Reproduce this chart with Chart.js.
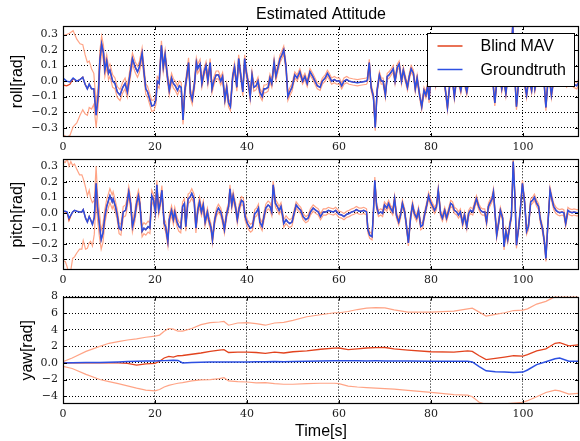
<!DOCTYPE html>
<html>
<head>
<meta charset="utf-8">
<script src="https://cdn.jsdelivr.net/npm/chart.js@4.4.1/dist/chart.umd.min.js"></script>
<style>
body{margin:0;background:#fff;}
#wrap{position:relative;width:580px;height:441px;background:#fff;}
#wrap canvas{position:absolute;left:0;}
</style>
</head>
<body>
<div id="wrap">
  <canvas id="roll_chart" width="580" height="160" style="top:0px"></canvas>
  <canvas id="pitch_chart" width="580" height="160" style="top:140px"></canvas>
  <canvas id="yaw_chart" width="580" height="156" style="top:285px"></canvas>
</div>
<script>
// tick labels
var timeTicks = [0, 20, 40, 60, 80, 100];
var angleTicks = [-0.3, -0.2, -0.1, 0, 0.1, 0.2, 0.3];
var yawTicks = [-4, -2, 0, 2, 4, 6, 8];

//ROLL DATA (time [s], groundtruth [rad])
var rollTime = [
    0, 0.8, 1.5, 2.2, 3.0, 3.7, 4.3, 4.8, 5.3, 5.7,
    6.2, 6.7, 7.2, 7.7, 8.0, 8.4, 8.8, 9.1, 9.5, 9.9,
    10.2, 10.8, 11.3, 11.8, 12.4, 13.0, 13.5, 14.0, 14.6, 15.1,
    15.7, 16.2, 16.6, 17.2, 17.6, 18.0, 18.4, 18.9, 19.3, 19.8,
    20.2, 20.5, 20.9, 21.4, 21.8, 22.2, 22.7, 23.1, 23.6, 24.0,
    24.4, 24.9, 25.3, 25.7, 26.1, 26.5, 26.9, 27.3, 27.7, 28.1,
    28.6, 29.0, 29.3, 29.8, 30.2, 30.7, 31.1, 31.5, 32.0, 32.4,
    32.8, 33.3, 33.8, 34.3, 34.7, 35.2, 35.6, 36.0, 36.4, 36.9,
    37.3, 37.8, 38.2, 38.6, 39.1, 39.5, 39.9, 40.3, 40.7, 41.1,
    41.5, 42.0, 42.4, 42.8, 43.3, 43.7, 44.1, 44.6, 45.0, 45.4,
    45.9, 46.3, 46.7, 47.2, 47.6, 48.0, 48.5, 48.9, 49.3, 49.8,
    50.4, 50.9, 51.5, 52.1, 52.6, 53.1, 53.7, 54.3, 54.8, 55.3,
    55.9, 56.4, 57.0, 57.5, 57.9, 58.4, 59.0, 59.5, 60.1, 60.6,
    61.1, 61.7, 62.2, 63.0, 64.0, 65.0, 66.0, 66.2, 66.6, 67.0,
    67.5, 67.9, 68.3, 68.8, 69.2, 69.6, 70.1, 70.5, 70.9, 71.4,
    71.8, 72.2, 72.7, 73.1, 73.6, 74.0, 74.4, 74.9, 75.3, 75.7,
    76.2, 76.6, 77.0, 77.6, 78.0, 78.5, 78.9, 79.3, 79.6, 80.0,
    80.5, 81.0, 81.5, 82.0, 82.5, 83.0, 83.6, 84.1, 84.6, 85.1,
    85.6, 86.0, 86.5, 87.0, 87.8, 88.3, 88.8, 89.3, 89.8, 90.3,
    90.8, 91.3, 91.8, 92.3, 92.8, 93.3, 93.9, 94.4, 94.9, 95.4,
    95.8, 96.3, 96.8, 97.3, 97.8, 98.2, 98.6, 99.1, 99.6, 100.1,
    100.8, 101.3, 101.9, 102.3, 102.6, 103.2, 103.8, 104.4, 105.0, 105.6,
    106.2, 106.8, 107.4, 108.0, 108.8, 109.5, 110.2, 111.0, 111.7, 112.3
];
var rollGt = [
    0.02, 0.0, -0.005, 0.02, 0.0, 0.01, 0.025, -0.02, -0.05, -0.02,
    -0.05, -0.05, -0.22, -0.08, 0.13, 0.24, 0.18, 0.07, 0.13, 0.05,
    0.07, 0.0, -0.015, -0.07, -0.09, -0.04, -0.015, -0.07, 0.05, 0.145,
    0.09, 0.06, 0.09, 0.18, 0.06, -0.05, -0.07, -0.12, -0.16, -0.155,
    -0.12, 0.0, -0.015, 0.23, 0.09, 0.17, 0.03, -0.06, 0.02, -0.015,
    -0.03, -0.06, -0.03, -0.04, -0.25, -0.06, 0.03, 0.12, -0.08, -0.12,
    -0.015, 0.12, 0.08, 0.11, -0.015, 0.06, 0.10, 0.0, 0.12, -0.05,
    0.0, 0.04, 0.04, 0.0, 0.03, -0.12, -0.04, -0.14, -0.165, 0.03,
    0.09, -0.04, 0.145, 0.05, -0.07, 0.145, 0.05, -0.015, -0.10, 0.04,
    -0.04, -0.03, 0.0, -0.07, -0.10, -0.05, -0.05, -0.04, 0.02, -0.015,
    0.12, 0.03, 0.08, 0.145, 0.17, 0.2, 0.09, -0.10, -0.07, -0.04,
    0.04, 0.02, 0.06, 0.0, 0.03, -0.015, 0.06, 0.03, 0.0, -0.03,
    -0.04, 0.0, 0.02, 0.05, 0.03, 0.0, 0.01, 0.0, 0.0, -0.03,
    0.0, 0.01, 0.0, -0.005, -0.01, -0.005, 0.0, 0.01, 0.12, -0.04,
    -0.1, -0.30, -0.06, 0.04, 0.0, 0.0, -0.09, 0.03, 0.04, 0.06,
    0.08, 0.0, 0.09, 0.11, 0.0, 0.07, 0.02, -0.04, 0.03, 0.08,
    0.05, -0.05, 0.02, -0.1, -0.165, -0.06, -0.09, -0.03, -0.12, 0.02,
    0.06, -0.02, 0.08, 0.0, 0.05, -0.02, -0.17, -0.02, 0.03, -0.1,
    0.02, 0.0, -0.06, 0.03, -0.07, 0.02, 0.05, 0.0, 0.06, 0.02,
    0.08, 0.03, 0.1, 0.04, 0.0, 0.05, -0.14, 0.02, 0.06, -0.05,
    0.02, -0.08, 0.05, 0.12, 0.36, 0.05, -0.165, 0.0, 0.1, 0.03,
    -0.09, 0.02, -0.06, 0.04, -0.05, 0.05, 0.02, 0.08, -0.17, 0.06,
    -0.09, 0.03, 0.06, 0.0, 0.03, -0.02, 0.01, -0.02, -0.03, 0.0
];
// estimate only differs from groundtruth in the first samples
var rollEstStart = [-0.025, -0.03, -0.02, 0.015];
// 1-sigma band, value holds from each listed time on
var rollSigT = [0, 0.8, 2.2, 3.0, 3.7, 4.3, 4.8, 5.3, 5.7, 6.2, 6.7, 7.2, 7.7, 8.4, 9.1, 11, 20, 30, 50];
var rollSigV = [0.32, 0.33, 0.31, 0.27, 0.23, 0.21, 0.19, 0.17, 0.15, 0.13, 0.1, 0.08, 0.06, 0.05, 0.04, 0.035, 0.03, 0.025, 0.02];

//PITCH DATA
var pitchTime = [
    0, 0.5, 0.9, 1.3, 1.7, 2.1, 2.5, 3.0, 3.6, 4.1,
    4.4, 4.9, 5.3, 5.7, 6.0, 6.4, 6.8, 7.2, 7.5, 7.9,
    8.3, 8.7, 9.1, 9.5, 9.9, 10.2, 10.7, 10.9, 11.4, 11.8,
    12.2, 12.6, 13.1, 13.6, 13.8, 14.3, 14.7, 15.1, 15.6, 16.0,
    16.4, 16.7, 17.2, 17.6, 18.0, 18.5, 18.9, 19.3, 19.7, 20.1,
    20.4, 20.8, 21.2, 21.5, 22.0, 22.3, 22.8, 23.1, 23.6, 24.0,
    24.3, 24.8, 25.2, 25.6, 26.0, 26.4, 26.7, 27.2, 27.6, 28.0,
    28.5, 28.9, 29.3, 29.7, 30.1, 30.5, 30.9, 31.4, 31.7, 32.2,
    32.5, 33.0, 33.4, 33.8, 34.3, 34.7, 35.1, 35.6, 36.0, 36.3,
    36.7, 37.0, 37.5, 37.9, 38.3, 38.8, 39.2, 39.6, 40.1, 40.5,
    40.8, 41.2, 41.7, 42.1, 42.5, 42.8, 43.3, 43.7, 44.1, 44.6,
    45.0, 45.4, 45.7, 46.2, 46.6, 47.0, 47.4, 47.8, 48.0, 48.5,
    48.9, 49.3, 49.8, 50.2, 50.7, 51.2, 51.7, 52.2, 52.8, 53.3,
    53.8, 54.4, 55.0, 55.5, 56.0, 56.6, 57.2, 57.7, 58.2, 58.8,
    59.3, 60.0, 60.6, 61.1, 61.7, 62.2, 62.8, 63.3, 63.8, 64.4,
    64.9, 65.4, 66.0, 66.3, 66.7, 67.2, 67.5, 67.8, 68.2, 68.6,
    69.1, 69.5, 69.9, 70.4, 70.8, 71.2, 71.7, 72.1, 72.5, 73.0,
    73.4, 73.8, 74.3, 74.7, 75.1, 75.6, 76.0, 76.4, 76.9, 77.3,
    77.8, 78.2, 78.6, 79.1, 79.5, 79.9, 80.4, 80.8, 81.2, 81.6,
    82.1, 82.5, 83.0, 83.4, 83.8, 84.3, 84.7, 85.1, 85.6, 86.0,
    86.4, 86.9, 87.3, 87.8, 88.2, 88.6, 89.1, 89.5, 89.9, 90.4,
    90.8, 91.2, 91.7, 92.1, 92.5, 92.8, 93.3, 93.6, 94.0, 94.3,
    94.7, 95.1, 95.6, 95.9, 96.3, 96.7, 97.2, 97.5, 97.9, 98.3,
    98.6, 99.1, 99.5, 99.9, 100.4, 100.8, 101.2, 101.7, 102.1, 102.5,
    103.0, 103.4, 103.8, 104.3, 104.7, 105.0, 105.4, 105.9, 106.3, 106.7,
    107.2, 107.6, 108.0, 108.5, 108.9, 109.3, 109.8, 110.2, 110.7, 111.1,
    111.7, 112.2
];
var pitchGt = [
    0.01, 0.01, 0.005, -0.035, -0.015, 0.005, 0.015, 0.01, 0.005, 0.005,
    0.02, -0.035, -0.06, -0.025, -0.045, -0.075, -0.03, 0.19, 0.04, -0.07,
    -0.175, -0.13, -0.025, 0.04, 0.08, 0.11, 0.07, 0.09, 0.04, -0.015,
    -0.1, -0.11, 0.005, 0.015, 0.04, 0.135, 0.06, -0.09, -0.025, 0.06,
    0.11, 0.06, -0.12, -0.1, -0.11, -0.09, -0.1, 0.11, 0.08, 0.005,
    0.18, 0.015, 0.07, 0.145, -0.07, -0.09, -0.185, -0.045, 0.015, -0.045,
    0.005, -0.06, -0.09, -0.1, 0.04, 0.06, -0.09, 0.09, 0.1, 0.125,
    0.09, -0.1, 0.015, 0.07, 0.005, 0.05, -0.06, 0.005, -0.045, -0.1,
    -0.175, -0.045, 0.005, 0.03, 0.005, -0.045, -0.11, -0.005, 0.04, 0.155,
    0.05, 0.11, 0.04, -0.045, 0.03, 0.08, 0.07, -0.025, -0.07, -0.09,
    -0.1, -0.09, -0.005, 0.005, 0.03, -0.06, -0.09, -0.025, 0.03, 0.05,
    0.04, 0.005, 0.18, 0.06, 0.04, 0.015, 0.04, -0.025, -0.07, -0.045,
    -0.06, -0.07, -0.06, -0.01, 0.05, 0.03, 0.015, -0.025, -0.045, -0.035,
    0.005, 0.03, 0.015, 0.005, -0.025, 0.005, 0.005, 0.015, 0.01, 0.005,
    0.015, -0.01, -0.015, -0.025, -0.01, -0.005, 0.005, 0.01, 0.02, 0.01,
    0.01, 0.015, 0.005, -0.11, -0.145, -0.155, 0.005, 0.21, 0.04, -0.005,
    0.005, -0.005, 0.05, 0.03, 0.06, 0.03, 0.005, 0.09, -0.015, -0.06,
    -0.015, 0.06, 0.005, -0.09, -0.195, -0.025, 0.05, -0.005, -0.035, 0.015,
    -0.09, -0.08, -0.015, 0.05, 0.11, 0.07, 0.04, 0.015, 0.04, 0.145,
    -0.005, -0.035, 0.015, -0.035, 0.005, 0.06, 0.05, 0.015, 0.005, -0.015,
    0.005, -0.07, -0.015, -0.09, -0.005, 0.015, 0.005, 0.05, 0.09, 0.04,
    0.015, 0.005, 0.005, -0.06, 0.04, 0.06, 0.09, 0.135, -0.025, -0.145,
    -0.07, 0.015, -0.035, -0.22, -0.12, -0.175, -0.07, -0.025, 0.33, 0.08,
    -0.21, -0.09, 0.04, 0.19, 0.06, -0.12, -0.09, 0.07, 0.08, 0.1,
    0.06, 0.04, -0.045, -0.11, -0.195, -0.295, -0.09, 0.145, 0.09, 0.04,
    0.015, 0.005, 0.0, 0.005, 0.0, -0.07, 0.015, 0.005, 0.0, 0.005,
    0.0, 0.0
];
var pitchEstStart = [0.01, 0.005, 0.0, -0.05, -0.02];
var pitchSigT = [0, 0.9, 2.1, 3.0, 3.6, 4.4, 5.3, 6.0, 6.8, 7.5, 8.3, 9.1, 11, 20, 30, 50];
var pitchSigV = [0.32, 0.35, 0.30, 0.27, 0.24, 0.2, 0.17, 0.14, 0.11, 0.08, 0.06, 0.045, 0.035, 0.03, 0.025, 0.02];

//YAW DATA
var yawTime = [0, 2, 5, 8, 10, 12, 14, 16, 18, 20, 21, 22, 23, 24, 25, 26, 28, 30, 32, 34,
    35, 36, 38, 40, 42, 44, 46, 48, 50, 53, 56, 59, 60, 62, 64, 66, 68, 70, 72, 75,
    80, 85, 88, 89, 90.5, 92, 94, 96, 98, 100, 101, 103, 105, 107, 108, 110, 112];
var yawEst = [0, 0, 0, 0.02, 0.05, 0.02, -0.05, -0.25, -0.1, -0.05, 0.2, 0.6, 0.8, 0.7, 0.87, 0.9, 1.05, 1.2, 1.4, 1.55,
    1.6, 1.26, 1.3, 1.3, 1.26, 1.15, 1.3, 1.2, 1.35, 1.45, 1.65, 1.78, 1.8, 1.6, 1.7, 1.8, 1.85, 1.86, 1.7, 1.55,
    1.35, 1.3, 1.46, 1.4, 0.87, 0.4, 0.55, 0.7, 0.87, 0.83, 1.0, 1.46, 1.7, 2.37, 2.45, 2.05, 2.17];
var yawGt = [0, 0.02, 0.04, 0.06, 0.08, 0.12, 0.16, 0.2, 0.22, 0.24, 0.26, 0.28, 0.3, 0.32, 0.3, 0, 0.05, 0.08, 0.1, 0.1,
    0.1, 0.1, 0.11, 0.12, 0.13, 0.14, 0.16, 0.14, 0.16, 0.2, 0.24, 0.27, 0.28, 0.26, 0.25, 0.24, 0.25, 0.24, 0.22, 0.22,
    0.2, 0.2, 0.2, 0.12, -0.45, -0.95, -1.07, -1.1, -1.15, -1.1, -0.85, -0.2, 0.15, 0.5, 0.6, 0.2, 0.2];
var yawUp = [0.15, 0.6, 1.4, 2.0, 2.37, 2.57, 2.77, 2.9, 3.1, 3.24, 3.36, 3.83, 4.15, 4.07, 3.83, 3.83, 4.15, 4.62, 4.86, 4.94,
    5.0, 4.55, 4.82, 4.86, 4.74, 4.55, 4.82, 4.9, 5.14, 5.57, 5.81, 6.05, 6.05, 6.2, 6.44, 6.6, 6.68, 6.64, 6.4, 6.13,
    6.13, 6.25, 6.52, 6.6, 6.13, 5.65, 5.85, 6.05, 6.32, 6.36, 6.52, 7.1, 7.43, 8.0, 8.1, 7.95, 8.05];
var yawLo = [-0.4, -0.67, -1.38, -2.0, -2.25, -2.5, -2.77, -3.04, -3.28, -3.36, -3.2, -2.9, -2.7, -2.57, -2.45, -2.37, -2.17, -2.05, -2.0, -1.9,
    -1.78, -2.17, -2.25, -2.3, -2.4, -2.37, -2.5, -2.57, -2.57, -2.5, -2.45, -2.45, -2.5, -2.8, -2.9, -2.97, -3.04, -3.1, -3.16, -3.3,
    -3.56, -3.83, -3.87, -4.07, -4.74, -5.0, -5.0, -4.94, -4.85, -4.74, -4.55, -4.07, -3.56, -3.28, -3.36, -3.75, -3.68];

var estColor = '#e2431e';
var gtColor = '#2d50e2';
var bandColor = '#ffa486';

function checkLen(name, a, b) {
    if (a.length !== b.length) throw new Error(name + ': ' + a.length + ' vs ' + b.length);
}
checkLen('roll', rollTime, rollGt);
checkLen('pitch', pitchTime, pitchGt);
checkLen('yaw', yawTime, yawEst);
checkLen('yawGt', yawTime, yawGt);
checkLen('yawUp', yawTime, yawUp);
checkLen('yawLo', yawTime, yawLo);

function xy(times, vals) {
    return times.map(function (t, i) { return {x: t, y: vals[i]}; });
}
function sigmaAt(stepT, stepV, t) {
    var v = stepV[0];
    for (var i = 0; i < stepT.length; i++) {
        if (stepT[i] <= t) v = stepV[i];
    }
    return v;
}
function band(times, est, stepT, stepV, sign) {
    return times.map(function (t, i) {
        return {x: t, y: est[i] + sign * sigmaAt(stepT, stepV, t)};
    });
}

var rollEst = rollEstStart.concat(rollGt.slice(rollEstStart.length));
var pitchEst = pitchEstStart.concat(pitchGt.slice(pitchEstStart.length));

function lineSet(label, data, color, width, order) {
    return {
        label: label,
        data: data,
        borderColor: color,
        borderWidth: width,
        pointRadius: 0,
        tension: 0,
        fill: false,
        order: order
    };
}

function panelSets(times, est, gt, up, lo) {
    return [
        lineSet('Groundtruth', xy(times, gt), gtColor, 1.5, 0),
        lineSet('Blind MAV', xy(times, est), estColor, 1.3, 1),
        lineSet('', up, bandColor, 1.2, 2),
        lineSet('', lo, bandColor, 1.2, 2)
    ];
}

// frame and inward ticks on all four sides
var framePlugin = {
    id: 'frame',
    afterDatasetsDraw: function (chart) {
        var a = chart.chartArea, ctx = chart.ctx;
        var xs = chart.scales.x, ys = chart.scales.y;
        ctx.save();
        ctx.strokeStyle = '#000';
        ctx.lineWidth = 1;
        ctx.setLineDash([]);
        ctx.beginPath();
        xs.ticks.forEach(function (t) {
            var px = Math.round(xs.getPixelForValue(t.value)) + 0.5;
            ctx.moveTo(px, a.top); ctx.lineTo(px, a.top + 4);
            ctx.moveTo(px, a.bottom); ctx.lineTo(px, a.bottom - 4);
        });
        ys.ticks.forEach(function (t) {
            var py = Math.round(ys.getPixelForValue(t.value)) + 0.5;
            ctx.moveTo(a.left, py); ctx.lineTo(a.left + 4, py);
            ctx.moveTo(a.right, py); ctx.lineTo(a.right - 4, py);
        });
        ctx.stroke();
        ctx.lineWidth = 1.2;
        ctx.strokeRect(Math.round(a.left) + 0.5, Math.round(a.top) + 0.5,
            Math.round(a.right - a.left) - 1, Math.round(a.bottom - a.top) - 1);
        ctx.restore();
    }
};

// boxed legend inside the roll panel
var insetLegend = {
    id: 'insetLegend',
    afterDraw: function (chart) {
        if (!chart.options.plugins.insetLegend || !chart.options.plugins.insetLegend.show) return;
        var a = chart.chartArea, ctx = chart.ctx;
        var w = 147, h = 53;
        var left = Math.round(a.right - 5 - w) + 0.5, top = Math.round(a.top + 7) + 0.5;
        var items = chart.data.datasets.filter(function (d) { return d.label; })
            .sort(function (p, q) { return q.order - p.order; });
        ctx.save();
        ctx.fillStyle = '#fff';
        ctx.fillRect(left, top, w, h);
        ctx.strokeStyle = '#000';
        ctx.lineWidth = 1;
        ctx.strokeRect(left, top, w, h);
        ctx.font = '16px "Liberation Sans", Arial, sans-serif';
        ctx.textBaseline = 'middle';
        items.forEach(function (d, i) {
            var y = top + 12.5 + i * 23.5;
            ctx.strokeStyle = d.borderColor;
            ctx.lineWidth = 1.5;
            ctx.beginPath();
            ctx.moveTo(left + 10, y); ctx.lineTo(left + 35, y);
            ctx.stroke();
            ctx.fillStyle = '#000';
            ctx.fillText(d.label, left + 53, y + 1);
        });
        ctx.restore();
    }
};

function tickText(v) {
    var s = Number.isInteger(v) && Math.abs(v) >= 1 ? String(v) : v.toFixed(1);
    return s.replace('-', '\u2212');
}

function makePanel(canvasId, sets, o) {
    var ctx = document.getElementById(canvasId).getContext('2d');
    var tickFont = {family: '"DejaVu Serif", serif', size: 11};
    var labelFont = {family: '"Liberation Sans", Arial, sans-serif', size: 16};
    return new Chart(ctx, {
        type: 'line',
        data: {datasets: sets},
        plugins: [framePlugin, insetLegend],
        options: {
            responsive: false,
            animation: false,
            events: [],
            layout: {padding: {top: o.padTop, right: 1, left: 0, bottom: 0}},
            plugins: {
                legend: {display: false},
                tooltip: {enabled: false},
                title: {
                    display: !!o.title,
                    text: o.title || '',
                    fullSize: false,
                    color: '#000',
                    font: {family: labelFont.family, size: 16, weight: 'normal'},
                    padding: {top: 5, bottom: 1.8}
                },
                insetLegend: {show: !!o.legend}
            },
            scales: {
                x: {
                    type: 'linear',
                    min: 0,
                    max: 112.2,
                    afterBuildTicks: function (s) { s.ticks = timeTicks.map(function (v) { return {value: v}; }); },
                    afterFit: function (s) { s.height = o.xHeight; },
                    ticks: {font: tickFont, color: '#1a1a1a', padding: 4, maxRotation: 0, autoSkip: false,
                        callback: function (v) { return String(v); }},
                    grid: {color: '#000', lineWidth: 1, drawTicks: false},
                    border: {display: false, dash: [1, 2]},
                    title: {display: !!o.xTitle, text: o.xTitle || '', color: '#000', font: labelFont,
                        padding: {top: 0, bottom: 0}}
                },
                y: {
                    min: o.yMin,
                    max: o.yMax,
                    afterBuildTicks: function (s) { s.ticks = o.yTicks.map(function (v) { return {value: v}; }); },
                    afterFit: function (s) { s.width = 63; },
                    ticks: {font: tickFont, color: '#1a1a1a', padding: 5,
                        callback: function (v) { return tickText(v); }},
                    grid: {color: '#000', lineWidth: 1, drawTicks: false},
                    border: {display: false, dash: [1, 2]},
                    title: {display: true, text: o.yTitle, color: '#000', font: labelFont,
                        padding: {top: o.yTitlePad, bottom: 0}}
                }
            }
        }
    });
}

//ROLL CHART
var rollChart = makePanel('roll_chart',
    panelSets(rollTime, rollEst, rollGt,
        band(rollTime, rollEst, rollSigT, rollSigV, 1),
        band(rollTime, rollEst, rollSigT, rollSigV, -1)),
    {title: 'Estimated Attitude', legend: true, padTop: 0, xHeight: 23,
        yMin: -0.36, yMax: 0.355, yTicks: angleTicks, yTitle: 'roll[rad]', yTitlePad: 7.5});

//PITCH CHART
var pitchChart = makePanel('pitch_chart',
    panelSets(pitchTime, pitchEst, pitchGt,
        band(pitchTime, pitchEst, pitchSigT, pitchSigV, 1),
        band(pitchTime, pitchEst, pitchSigT, pitchSigV, -1)),
    {padTop: 19.3, xHeight: 30,
        yMin: -0.37, yMax: 0.345, yTicks: angleTicks, yTitle: 'pitch[rad]', yTitlePad: 7.5});

//YAW CHART
var yawChart = makePanel('yaw_chart',
    panelSets(yawTime, yawEst, yawGt, xy(yawTime, yawUp), xy(yawTime, yawLo)),
    {padTop: 9.3, xHeight: 37, xTitle: 'Time[s]',
        yMin: -4.95, yMax: 8, yTicks: yawTicks, yTitle: 'yaw[rad]', yTitlePad: 18});
</script>
</body>
</html>
